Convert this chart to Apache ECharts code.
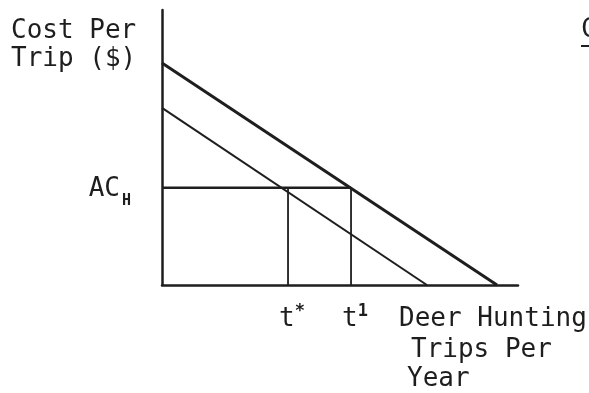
<!DOCTYPE html>
<html>
<head>
<meta charset="utf-8">
<script src="https://cdn.jsdelivr.net/npm/echarts@6/dist/echarts.min.js"></script>
<style>
  html, body { margin: 0; padding: 0; background: #fff; }
  #chart { width: 589px; height: 393px; }
</style>
</head>
<body>
<div id="chart"></div>
<script>
// Demand curves for deer hunting trips (cost per trip vs trips per year)
var outerDemand = [[0, 80.7], [94.1, 0]];   // shifted demand curve
var innerDemand = [[0, 64.4], [74.4, 0]];   // original demand curve
var avgCost = 35.4;                         // AC_H level
var tStar = 35.4;                           // t*
var tOne = 53.1;                            // t^1

var ink = '#1e1e1e';
var mono = '"DejaVu Sans Mono", "Liberation Mono", monospace';

var chart = echarts.init(document.getElementById('chart'), null, { renderer: 'canvas' });

function seg(data, w) {
  return {
    type: 'line', data: data, symbol: 'none', silent: true,
    lineStyle: { color: ink, width: w }, animation: false
  };
}

chart.setOption({
  animation: false,
  backgroundColor: '#ffffff',
  grid: { left: 162, top: 10, right: 71, bottom: 108, containLabel: false },
  xAxis: {
    type: 'value', min: 0, max: 100,
    axisLine: { show: true, lineStyle: { color: ink, width: 2.5 } },
    axisTick: { show: false }, axisLabel: { show: false }, splitLine: { show: false }
  },
  yAxis: {
    type: 'value', min: 0, max: 100,
    axisLine: { show: true, lineStyle: { color: ink, width: 2.5 } },
    axisTick: { show: false }, axisLabel: { show: false }, splitLine: { show: false }
  },
  series: [
    seg(outerDemand, 3),
    seg(innerDemand, 2),
    seg([[0, avgCost], [tOne, avgCost]], 2.5),
    seg([[tStar, 0], [tStar, avgCost]], 1.8),
    seg([[tOne, 0], [tOne, avgCost]], 1.8),
    {
      type: 'scatter', symbolSize: 0, silent: true, animation: false,
      itemStyle: { opacity: 1 },
      data: [
        { value: [tStar, 0], label: { formatter: '{t|t}{s|*}' } },
        { value: [tOne, 0], label: { formatter: '{t|t}{s|1}' } }
      ],
      label: {
        show: true, position: 'bottom', distance: 18, offset: [4, 0],
        color: ink,
        rich: {
          t: { fontFamily: mono, fontSize: 26, color: ink },
          s: { fontFamily: mono, fontSize: 17, fontWeight: 'bold', color: ink, padding: [0, 0, 16, 0] }
        }
      }
    },
    {
      type: 'scatter', symbolSize: 0, silent: true, animation: false,
      itemStyle: { opacity: 1 },
      data: [{ value: [0, avgCost] }],
      label: {
        show: true, position: 'left', distance: 31, offset: [0, 2],
        formatter: '{a|AC}{h|H}',
        rich: {
          a: { fontFamily: mono, fontSize: 26, color: ink },
          h: { fontFamily: mono, fontSize: 15, fontWeight: 'bold', color: ink, padding: [22, 0, 0, 2] }
        }
      }
    }
  ],
  graphic: [
    {
      type: 'text', left: 11, top: 17,
      style: { text: 'Cost Per\nTrip ($)', font: '26px ' + mono, fill: ink, lineHeight: 28 }
    },
    {
      type: 'text', left: 399, top: 306,
      style: { text: 'Deer Hunting', font: '26px ' + mono, fill: ink }
    },
    {
      type: 'text', left: 411, top: 337,
      style: { text: 'Trips Per', font: '26px ' + mono, fill: ink }
    },
    {
      type: 'text', left: 407, top: 366,
      style: { text: 'Year', font: '26px ' + mono, fill: ink }
    },
    {
      type: 'text', left: 581, top: 17,
      style: { text: 'C', font: '26px ' + mono, fill: ink }
    },
    {
      type: 'rect', shape: { x: 581, y: 45, width: 12, height: 2 },
      style: { fill: ink }
    }
  ]
});
</script>
</body>
</html>
